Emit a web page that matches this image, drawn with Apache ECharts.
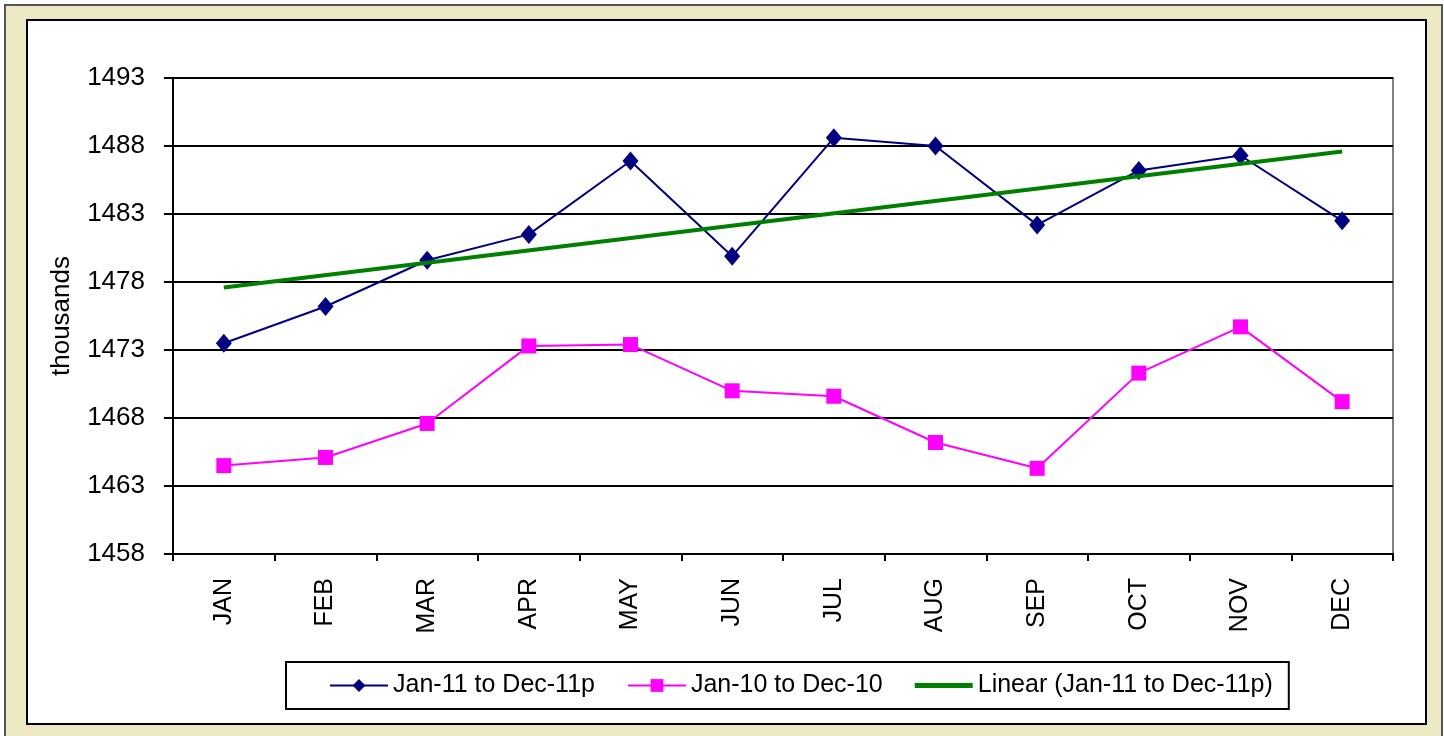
<!DOCTYPE html>
<html>
<head>
<meta charset="utf-8">
<script src="https://cdn.jsdelivr.net/npm/echarts@6/dist/echarts.min.js"></script>
<style>
  html, body { margin: 0; padding: 0; background: #ffffff; }
  #chart { width: 1444px; height: 736px; }
</style>
</head>
<body>
<div id="chart"></div>
<script>
const months = ['JAN','FEB','MAR','APR','MAY','JUN','JUL','AUG','SEP','OCT','NOV','DEC'];
const series2011 = [1473.5, 1476.2, 1479.6, 1481.5, 1486.9, 1479.9, 1488.6, 1488.0, 1482.2, 1486.2, 1487.3, 1482.5];
const series2010 = [1464.5, 1465.1, 1467.6, 1473.3, 1473.4, 1470.0, 1469.6, 1466.2, 1464.3, 1471.3, 1474.7, 1469.2];
const trend2011 = [1477.6, null, null, null, null, null, null, null, null, null, null, 1487.6];
const yMin = 1458, yMax = 1493, yStep = 5;

const FONT = '"Liberation Sans", Arial, sans-serif';
const chart = echarts.init(document.getElementById('chart'), null, { renderer: 'canvas' });
chart.setOption({
  animation: false,
  backgroundColor: '#ffffff',
  textStyle: { fontFamily: FONT },
  graphic: [
    { type: 'rect', z: -10, shape: { x: 5, y: 5, width: 1437, height: 735 },
      style: { fill: '#ECE8C4', stroke: '#555555', lineWidth: 2 } },
    { type: 'rect', z: -9, shape: { x: 27, y: 20, width: 1399, height: 704 },
      style: { fill: '#ffffff', stroke: '#000000', lineWidth: 2 } }
  ],
  grid: {
    left: 173, top: 78, right: 51, bottom: 182,
    show: true, borderColor: '#808080', borderWidth: 2, backgroundColor: 'transparent'
  },
  legend: {
    left: 286, top: 662,
    padding: [11, 16, 11, 43],
    borderColor: '#000000', borderWidth: 2,
    itemWidth: 58, itemHeight: 16, itemGap: 32,
    textStyle: { fontFamily: FONT, fontSize: 25, color: '#000000' },
    data: [
      'Jan-11 to Dec-11p',
      'Jan-10 to Dec-10',
      { name: 'Linear (Jan-11 to Dec-11p)', icon: 'path://M0,0H58V5H0Z' }
    ]
  },
  xAxis: {
    type: 'category',
    data: months,
    boundaryGap: true,
    axisLine: { lineStyle: { color: '#000000', width: 2 } },
    axisTick: { show: true, length: 7, lineStyle: { color: '#000000', width: 2 } },
    axisLabel: { rotate: 90, fontSize: 25, color: '#000000', margin: 24, fontFamily: FONT },
    splitLine: { show: false }
  },
  yAxis: {
    type: 'value',
    min: yMin, max: yMax, interval: yStep,
    name: 'thousands',
    nameLocation: 'middle',
    nameGap: 98,
    nameRotate: 90,
    nameTextStyle: { fontSize: 26, color: '#000000', fontFamily: FONT },
    axisLine: { show: true, lineStyle: { color: '#000000', width: 2 } },
    axisTick: { show: true, length: 9, lineStyle: { color: '#000000', width: 2 } },
    axisLabel: { fontSize: 26, color: '#000000', margin: 28, fontFamily: FONT,
                 formatter: function (v) { return String(v); } },
    splitLine: { show: true, lineStyle: { color: '#000000', width: 2 } }
  },
  series: [
    {
      name: 'Jan-11 to Dec-11p', type: 'line', data: series2011,
      symbol: 'diamond', symbolSize: [16, 19],
      itemStyle: { color: '#000080' },
      lineStyle: { color: '#000080', width: 2 },
      z: 4
    },
    {
      name: 'Jan-10 to Dec-10', type: 'line', data: series2010,
      symbol: 'rect', symbolSize: 15,
      itemStyle: { color: '#FF00FF' },
      lineStyle: { color: '#FF00FF', width: 2 },
      z: 3
    },
    {
      name: 'Linear (Jan-11 to Dec-11p)', type: 'line', data: trend2011,
      connectNulls: true, symbol: 'none', showSymbol: false,
      itemStyle: { color: '#008000' },
      lineStyle: { color: '#008000', width: 4 },
      z: 5
    }
  ]
});
</script>
</body>
</html>
